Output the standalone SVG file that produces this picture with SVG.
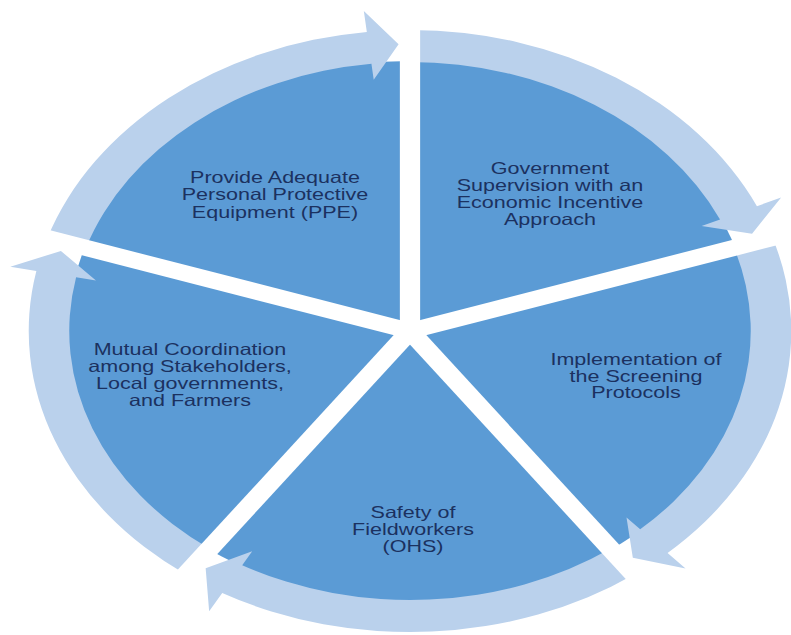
<svg xmlns="http://www.w3.org/2000/svg" width="791" height="635" viewBox="0 0 791 635">
<style>
.seg{fill:#5b9bd5}
.arr{fill:#bad1ec}
.gap{stroke:#ffffff;stroke-width:16;fill:none;stroke-linecap:butt}
.lbl{font-family:"Liberation Sans",Arial,sans-serif;font-size:16.5px;fill:#1b3160;text-anchor:middle}
</style>
<rect width="791" height="635" fill="#ffffff"/>
<g id="node-ppe">
<path class="seg" transform="translate(410,331) scale(1.2667,1)" d="M0,0 L-256.79,-83.44 A270 270 0 0 1 0,-270 Z"/>
<text class="lbl" transform="matrix(1.305 0 0 1 275 183)"><tspan x="0" y="0">Provide Adequate</tspan><tspan x="0" y="17.3">Personal Protective</tspan><tspan x="0" y="34.6">Equipment (PPE)</tspan></text>
</g>
<g id="node-gov">
<path class="seg" transform="translate(410,331) scale(1.2667,1)" d="M0,0 L0,-270 A270 270 0 0 1 256.79,-83.44 Z"/>
<text class="lbl" transform="matrix(1.305 0 0 1 550 174)"><tspan x="0" y="0">Government</tspan><tspan x="0" y="17">Supervision with an</tspan><tspan x="0" y="34">Economic Incentive</tspan><tspan x="0" y="51">Approach</tspan></text>
</g>
<g id="node-screening">
<path class="seg" transform="translate(410,331) scale(1.2667,1)" d="M0,0 L256.79,-83.44 A270 270 0 0 1 158.70,218.44 Z"/>
<text class="lbl" transform="matrix(1.305 0 0 1 636 365)"><tspan x="0" y="0">Implementation of</tspan><tspan x="0" y="16.7">the Screening</tspan><tspan x="0" y="33.4">Protocols</tspan></text>
</g>
<g id="node-ohs">
<path class="seg" transform="translate(410,331) scale(1.2667,1)" d="M0,0 L158.70,218.44 A270 270 0 0 1 -158.70,218.44 Z"/>
<text class="lbl" transform="matrix(1.305 0 0 1 413 518)"><tspan x="0" y="0">Safety of</tspan><tspan x="0" y="17">Fieldworkers</tspan><tspan x="0" y="34">(OHS)</tspan></text>
</g>
<g id="node-coord">
<path class="seg" transform="translate(410,331) scale(1.2667,1)" d="M0,0 L-158.70,218.44 A270 270 0 0 1 -256.79,-83.44 Z"/>
<text class="lbl" transform="matrix(1.305 0 0 1 190 355)"><tspan x="0" y="0">Mutual Coordination</tspan><tspan x="0" y="17">among Stakeholders,</tspan><tspan x="0" y="34">Local governments,</tspan><tspan x="0" y="51">and Farmers</tspan></text>
</g>
<g id="connectors" transform="translate(410,331) scale(1.2667,1)">
<path class="arr" d="M-286.27,-93.01 A301 301 0 0 1 -34.07,-299.06 L-36.45,-319.93 L-9.01,-286.86 L-28.64,-251.37 L-30.45,-267.27 A269 269 0 0 0 -255.84,-83.13 Z"/>
<path class="arr" d="M0,-301 A301 301 0 0 1 273.90,-124.82 L293.01,-133.53 L270.03,-97.22 L230.22,-104.92 L244.78,-111.55 A269 269 0 0 0 0,-269 Z"/>
<path class="arr" d="M286.27,-93.01 A301 301 0 0 1 203.35,221.92 L217.54,237.40 L175.91,226.78 L170.92,186.53 L181.73,198.33 A269 269 0 0 0 255.84,-83.13 Z"/>
<path class="arr" d="M176.93,243.52 A301 301 0 0 1 -148.22,261.98 L-158.56,280.26 L-161.32,237.37 L-124.58,220.20 L-132.46,234.13 A269 269 0 0 0 158.12,217.63 Z"/>
<path class="arr" d="M-176.93,243.52 A301 301 0 0 1 -294.96,-60.01 L-315.53,-64.20 L-275.60,-80.07 L-247.92,-50.44 L-263.60,-53.63 A269 269 0 0 0 -158.12,217.63 Z"/>
</g>
<g id="separators" transform="translate(410,331) scale(1.2667,1)">
<line class="gap" x1="0" y1="0" x2="0" y2="-340"/>
<line class="gap" x1="0" y1="0" x2="323.36" y2="-105.07"/>
<line class="gap" x1="0" y1="0" x2="199.85" y2="275.07"/>
<line class="gap" x1="0" y1="0" x2="-199.85" y2="275.07"/>
<line class="gap" x1="0" y1="0" x2="-323.36" y2="-105.07"/>
</g>
</svg>
